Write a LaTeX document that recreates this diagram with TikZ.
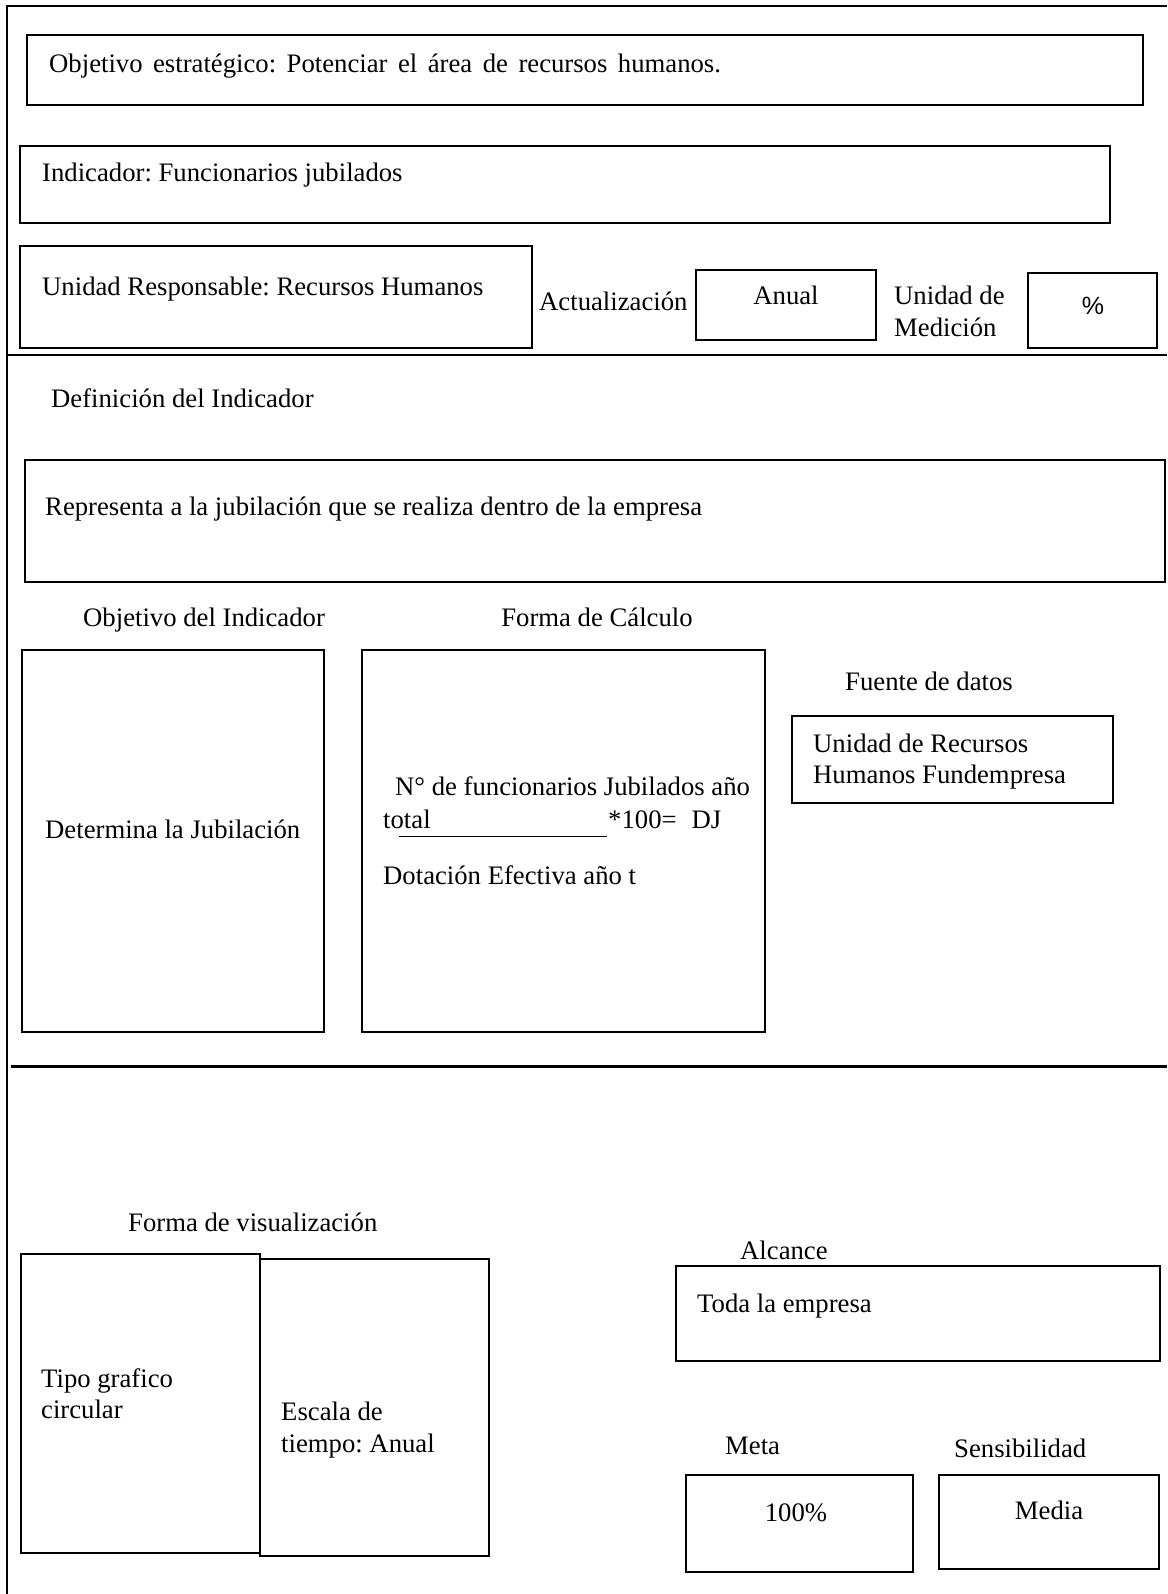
\documentclass[tikz,border=0pt]{standalone}
\usepackage{fontspec}
\setmainfont{Liberation Serif}
\newfontfamily\sansf{Liberation Sans}
\usetikzlibrary{fit}
\frenchspacing
\begin{document}
\begin{tikzpicture}[x=1pt,y=-1pt,
  boxst/.style={draw, line width=2pt, inner sep=0pt},
  txt/.style={inner sep=0pt, anchor=base west, font=\fontsize{26.7pt}{31pt}\selectfont},
  ctxt/.style={txt, anchor=base},
  frameline/.style={line width=2pt}]
\useasboundingbox (0,0) rectangle (1167,1594);
% frame
\coordinate (tl) at (7,6);
\coordinate (tr) at (1167,6);
\coordinate (bl) at (7,1594);
\coordinate (s1l) at (7,355);
\coordinate (s1r) at (1167,355);
\coordinate (s2l) at (11,1066);
\coordinate (s2r) at (1167,1066);
\draw[frameline] (bl) -- (tl) -- (tr);
\draw[line width=1.3pt] (s1l) -- (s1r);
\draw[line width=3pt] (s2l) -- (s2r);
% boxes
\node[boxst, fit={(27,35) (1143,105)}] (bobj) {};
\node[boxst, fit={(20,146) (1110,223)}] (bind) {};
\node[boxst, fit={(20,246) (532,348)}] (buni) {};
\node[boxst, fit={(696,270) (876,340)}] (banual) {};
\node[boxst, fit={(1028,273) (1157,348)}] (bpct) {};
\node[boxst, fit={(25,460) (1165,582)}] (bdef) {};
\node[boxst, fit={(22,650) (324,1032)}] (bobjind) {};
\node[boxst, fit={(362,650) (765,1032)}] (bcalc) {};
\node[boxst, fit={(792,716) (1113,803)}] (bfuente) {};
\node[boxst, fit={(21,1254) (260,1553)}] (btipo) {};
\node[boxst, fit={(260,1259) (489,1556)}] (bescala) {};
\node[boxst, fit={(676,1266) (1160,1361)}] (balc) {};
\node[boxst, fit={(686,1475) (913,1572)}] (bmeta) {};
\node[boxst, fit={(939,1475) (1159,1569)}] (bmedia) {};
% texts
\node[txt] (t1) at (49,73) {\spaceskip=10.5pt Objetivo estratégico: Potenciar el área de recursos humanos.};
\node[txt] (t2) at (42,182) {Indicador: Funcionarios jubilados};
\node[txt] (t3) at (42,295) {Unidad Responsable: Recursos Humanos};
\node[txt] (t4) at (539,311) {Actualización};
\node[ctxt] (t5) at (786,305) {Anual};
\node[txt] (t6a) at (894,305) {Unidad de};
\node[txt] (t6b) at (894,336) {Medición};
\node[ctxt, font=\sansf\fontsize{25pt}{29pt}\selectfont] (t7) at (1093,314) {\%};
\node[txt] (t8) at (51,407) {Definición del Indicador};
\node[txt] (t9) at (45,515) {Representa a la jubilación que se realiza dentro de la empresa};
\node[txt] (t10) at (83,626) {Objetivo del Indicador};
\node[ctxt] (t11) at (597,626) {Forma de Cálculo};
\node[txt] (t12) at (45,838) {Determina la Jubilación};
\node[txt] (t13) at (395,795) {N° de funcionarios Jubilados año};
\node[txt] (t14) at (383,828) {total};
\node[txt] (t15) at (608,828) {*100=\hspace{15pt}DJ};
\node[txt] (t16) at (383,884) {Dotación Efectiva año t};
\coordinate (ul1) at (399,836);
\coordinate (ul2) at (607,836);
\draw[line width=1pt] (ul1) -- (ul2);
\node[txt] (t17) at (845,690) {Fuente de datos};
\node[txt] (t18a) at (813,752) {Unidad de Recursos};
\node[txt] (t18b) at (813,783) {Humanos Fundempresa};
\node[txt] (t19) at (128,1231) {Forma de visualización};
\node[txt] (t20a) at (41,1387) {Tipo grafico};
\node[txt] (t20b) at (41,1418) {circular};
\node[txt] (t21a) at (281,1420) {Escala de};
\node[txt] (t21b) at (281,1452) {tiempo: Anual};
\node[txt] (t22) at (740,1259) {Alcance};
\node[txt] (t23) at (697,1312) {Toda la empresa};
\node[txt] (t24) at (725,1454) {Meta};
\node[txt] (t25) at (954,1457) {Sensibilidad};
\node[ctxt] (t26) at (796,1521) {100\%};
\node[ctxt] (t27) at (1049,1519) {Media};
\end{tikzpicture}
\end{document}
